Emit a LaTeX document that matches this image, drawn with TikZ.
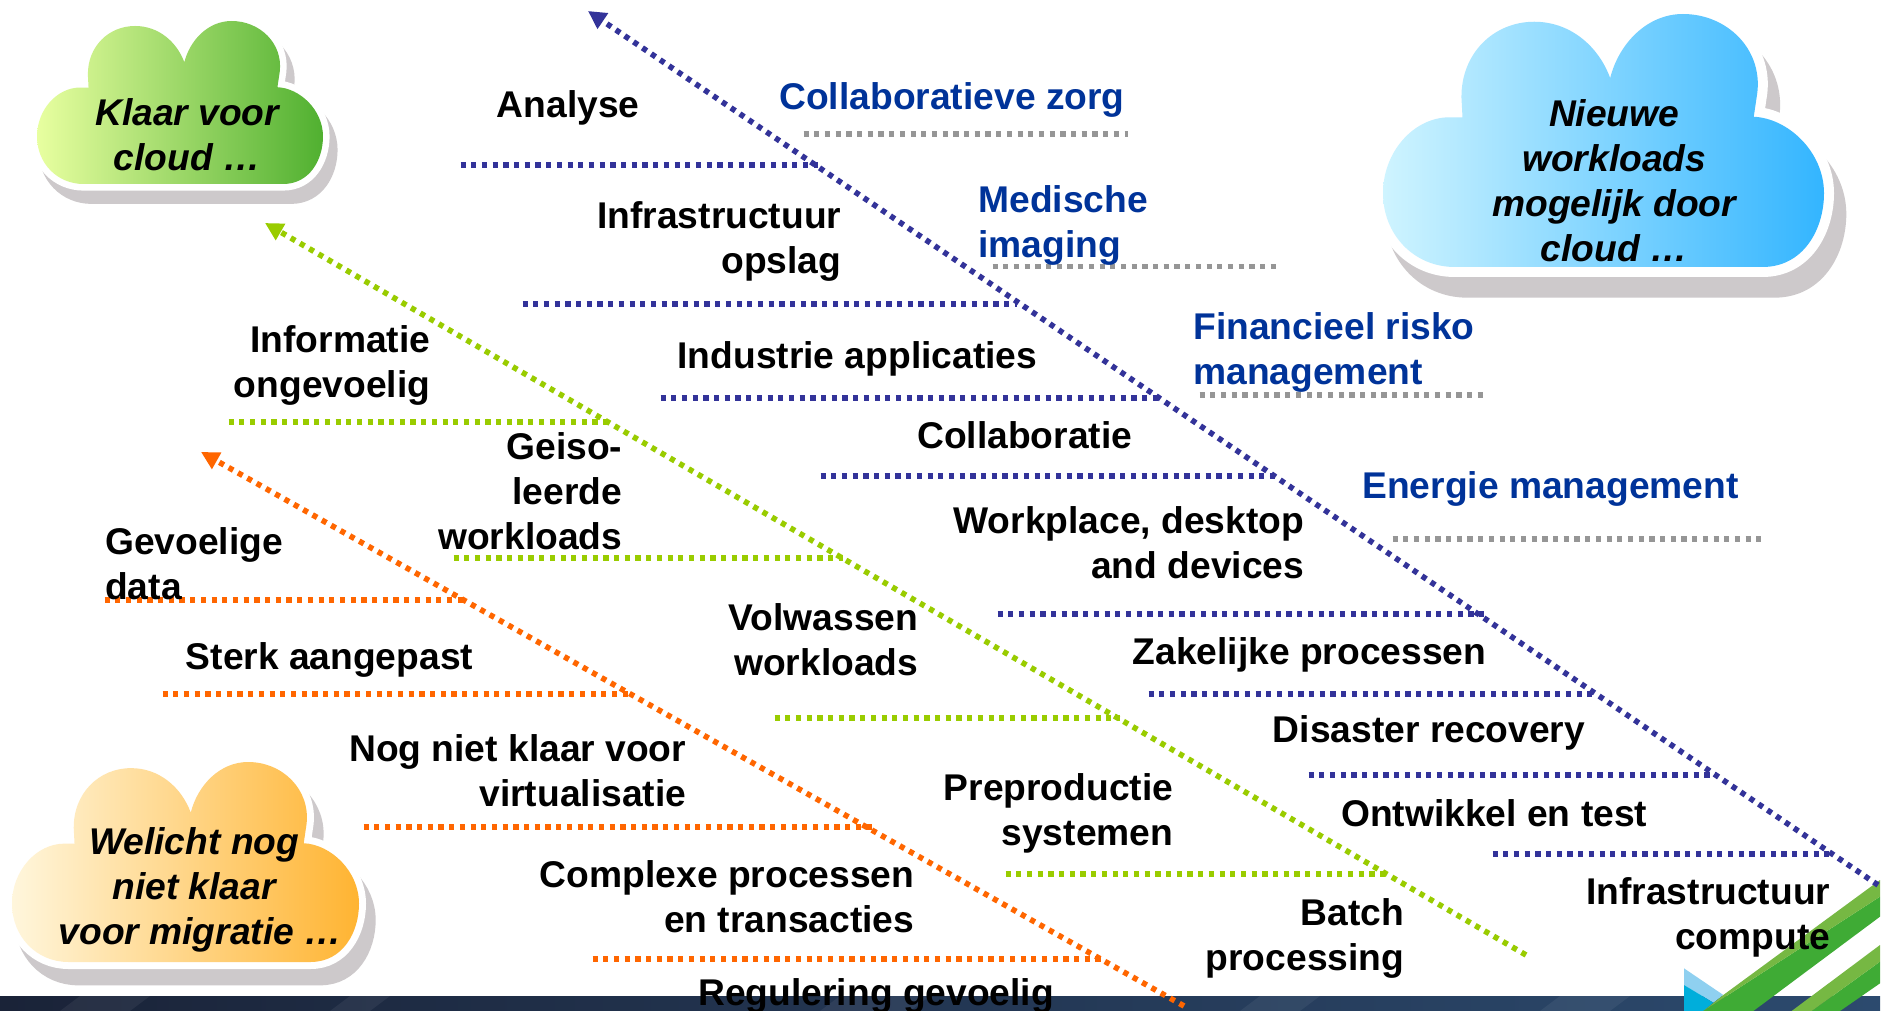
\documentclass[tikz,border=0pt]{standalone}
\usepackage{fontspec}
\setmainfont{Liberation Sans}
\usetikzlibrary{arrows.meta}
\definecolor{lineblue}{HTML}{333399}
\definecolor{linegreen}{HTML}{99CC00}
\definecolor{lineorange}{HTML}{FF6600}
\definecolor{linegray}{HTML}{969696}
\definecolor{textblue}{HTML}{003399}
\definecolor{cloudshadow}{HTML}{CDC9CB}
\definecolor{barL}{HTML}{1A2338}
\definecolor{barR}{HTML}{2C4A6E}
\definecolor{leafL}{HTML}{76B843}
\definecolor{leafD}{HTML}{3FAB35}
\definecolor{wedgeL}{HTML}{8FD0F0}
\definecolor{wedgeD}{HTML}{00AEDB}
\definecolor{cgL}{HTML}{E8FFA0}
\definecolor{cgR}{HTML}{50B030}
\definecolor{cbL}{HTML}{CFF4FF}
\definecolor{cbR}{HTML}{33B5FF}
\definecolor{coL}{HTML}{FFF6DC}
\definecolor{coR}{HTML}{FFB432}
\tikzset{
  dotline/.style={line width=2.8pt,dash pattern=on 2.6pt off 2.75pt},
  arrowline/.style={dotline,-{Triangle[length=9pt,width=9pt]}},
  lbl/.style={inner sep=0pt,outer sep=0pt,text=black,xshift=-0.4pt,yshift=-1.2pt,font=\fontsize{18.6}{22.5}\selectfont\bfseries},
  lblR/.style={lbl,anchor=east,align=right},
  lblL/.style={lbl,anchor=west,align=left},
  lblB/.style={lblL,text=textblue,xshift=-0.4pt},
  lblC/.style={lbl,anchor=center,align=center,font=\fontsize{18.6}{22.5}\selectfont\bfseries\itshape},
}
\newcommand\cloudoutline{(140,490) -- (740,490) .. controls (820,490) and (860,417) .. (860,347)
  .. controls (860,267) and (790,202) .. (723,199) -- (730,152)
  .. controls (740,67) and (670,0) .. (585,0)
  .. controls (515,0) and (460,57) .. (443,124)
  .. controls (420,62) and (365,15) .. (295,15)
  .. controls (215,15) and (152,77) .. (153,162) -- (155,200) -- (130,200)
  .. controls (60,200) and (0,267) .. (0,347)
  .. controls (0,427) and (60,490) .. (140,490) -- cycle}
% x y w h colL colR linewidth
\newcommand\cloudshape[7]{%
  \begin{scope}[shift={(#1,#2)},xscale=#3/860,yscale=#4/490]
    \begin{scope}[shift={(24,40)}]
      \filldraw[cloudshadow,line width=#7,line join=round] \cloudoutline;
    \end{scope}
    \filldraw[white,line width=#7,line join=round] \cloudoutline;
    \shade[left color=#5,right color=#6] \cloudoutline;
  \end{scope}}
\newcommand\hln[5]{%
  \coordinate (#1-l) at (#3-1.5,#5-1);
  \coordinate (#1-r) at (#4-1.5,#5-1);
  \draw[dotline,#2] (#1-l) -- (#1-r);}
\newcommand\sr{\strut}
\begin{document}
\begin{tikzpicture}[x=0.5pt,y=-0.5pt]
\useasboundingbox (0,0) rectangle (1885,1011);
\fill[white] (0,0) rectangle (1885,1011);
% bottom bar
\shade[left color=barL,right color=barR] (0,996) rectangle (1880,1011);
\fill[white,opacity=.06] (60,1011) -- (80,996) -- (150,996) -- (130,1011) -- cycle;
\fill[white,opacity=.06] (330,1011) -- (350,996) -- (390,996) -- (370,1011) -- cycle;
\fill[white,opacity=.06] (820,1011) -- (840,996) -- (930,996) -- (910,1011) -- cycle;
\fill[white,opacity=.06] (1240,1011) -- (1260,996) -- (1320,996) -- (1300,1011) -- cycle;
\fill[white,opacity=.06] (1540,1011) -- (1560,996) -- (1630,996) -- (1610,1011) -- cycle;
% logo
\begin{scope}[shift={(1500,820)},xscale=1/3,yscale=1/3]
  \fill[wedgeL] (552,445) -- (670,525) -- (640,548) -- (552,495) -- cycle;
  \fill[wedgeD] (552,495) -- (640,548) -- (610,573) -- (552,573) -- cycle;
  \fill[leafD] (1140,230) -- (610,573) -- (760,573) -- (1140,290) -- cycle;
  \fill[leafL] (1140,180) -- (670,525) -- (610,573) -- (1140,230) -- cycle;
  \fill[leafD] (1140,425) -- (935,573) -- (1020,573) -- (1140,490) -- cycle;
  \fill[leafL] (1140,375) -- (875,573) -- (935,573) -- (1140,425) -- cycle;
\end{scope}
% main arrows
\coordinate (blueS) at (1878,885);  \coordinate (blueT) at (588,11);
\coordinate (greenS) at (1526,955); \coordinate (greenT) at (265,223);
\coordinate (orangeS) at (1184,1006); \coordinate (orangeT) at (201,452);
\draw[arrowline,lineblue] (blueS) -- (blueT);
\draw[arrowline,linegreen] (greenS) -- (greenT);
\draw[arrowline,lineorange] (orangeS) -- (orangeT);
% blue horizontals
\hln{b1}{lineblue}{462}{819}{166}
\hln{b2}{lineblue}{524}{1018}{305}
\hln{b3}{lineblue}{662}{1163}{399}
\hln{b4}{lineblue}{822}{1280}{477}
\hln{b5}{lineblue}{999}{1485}{615}
\hln{b6}{lineblue}{1150}{1597}{695}
\hln{b7}{lineblue}{1310}{1717}{776}
\hln{b8}{lineblue}{1494}{1834}{855}
% gray horizontals
\hln{g1}{linegray}{805}{1129}{135}
\hln{g2}{linegray}{994}{1280}{267.5}
\hln{g3}{linegray}{1201}{1485}{396}
\hln{g4}{linegray}{1394}{1762}{540}
% green horizontals
\hln{n1}{linegreen}{230}{609}{423}
\hln{n2}{linegreen}{455}{844}{559}
\hln{n3}{linegreen}{776}{1121}{719}
\hln{n4}{linegreen}{1007}{1388}{875}
% orange horizontals
\hln{o1}{lineorange}{106}{464}{601}
\hln{o2}{lineorange}{164}{633}{695}
\hln{o3}{lineorange}{365}{874}{828}
\hln{o4}{lineorange}{594}{1103}{960}
% clouds
\cloudshape{37}{21}{286}{163}{cgL}{cgR}{6.6pt}
\cloudshape{1383}{14}{441}{253}{cbL}{cbR}{10pt}
\cloudshape{12}{762}{347}{200}{coL}{coR}{7pt}
\node[lblC] (cloudG) at (188,137) {Klaar voor\sr\\cloud \dots\sr};
\node[lblC] (cloudB) at (1615,183) {Nieuwe\sr\\workloads\sr\\mogelijk door\sr\\cloud \dots\sr};
\node[lblC] (cloudO) at (195,888) {Welicht nog\sr\\niet klaar\sr\\\hspace*{6pt}voor migratie \dots\sr};
% black labels
\node[lbl] (tAnalyse) at (569,106) {Analyse\sr};
\node[lblR] (tOpslag) at (842,240) {Infrastructuur\sr\\opslag\sr};
\node[lblR] (tOngev) at (431,364) {Informatie\sr\\ongevoelig\sr};
\node[lblR] (tIndustrie) at (1038,357) {Industrie applicaties\sr};
\node[lblR] (tCollab) at (1133,437) {Collaboratie\sr};
\node[lblR] (tGeiso) at (623,493) {Geiso-\sr\\leerde\sr\\workloads\sr};
\node[lblR] (tWorkplace) at (1305,545) {Workplace, desktop\sr\\and devices\sr};
\node[lblR] (tVolw) at (919,642) {Volwassen\sr\\workloads\sr};
\node[lblL] (tGevoel) at (106,566) {Gevoelige\sr\\data\sr};
\node[lblR] (tSterk) at (474,658) {Sterk aangepast\sr};
\node[lblR] (tZak) at (1487,653) {Zakelijke processen\sr};
\node[lblR] (tDis) at (1586,731) {Disaster recovery\sr};
\node[lblR] (tNog) at (687,773) {Nog niet klaar voor\sr\\virtualisatie\sr};
\node[lblR] (tOnt) at (1648,815) {Ontwikkel en test\sr};
\node[lblR] (tPre) at (1174,812) {Preproductie\sr\\systemen\sr};
\node[lblR] (tCom) at (915,899) {Complexe processen\sr\\en transacties\sr};
\node[lblR] (tInfc) at (1831,916) {Infrastructuur\sr\\compute\sr};
\node[lblR] (tBatch) at (1405,937) {Batch\sr\\processing\sr};
\node[lbl] (tReg) at (877,994) {Regulering gevoelig\sr};
% blue labels
\node[lblB] (tZorg) at (781,98) {Collaboratieve zorg\sr};
\node[lblB] (tMed) at (980,224) {Medische\sr\\imaging\sr};
\node[lblB] (tFin) at (1195,351) {Financieel risko\sr\\management\sr};
\node[lblB] (tEn) at (1364,487) {Energie management\sr};
\end{tikzpicture}
\end{document}
